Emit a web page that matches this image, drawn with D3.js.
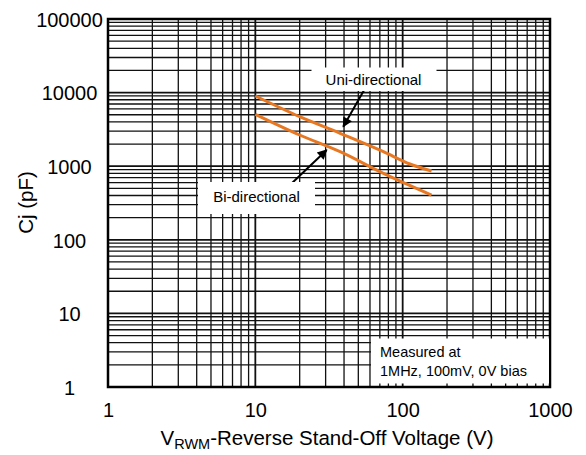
<!DOCTYPE html>
<html>
<head>
<meta charset="utf-8">
<script src="https://cdn.jsdelivr.net/npm/d3@7/dist/d3.min.js"></script>
<style>
  body { margin: 0; background: #fff; }
  svg text { font-family: "Liberation Sans", Arial, sans-serif; fill: #000; }
</style>
</head>
<body>
<svg id="chart"></svg>
<script>
// tick labels
var xTicks = [1, 10, 100, 1000];
var yTicks = [1, 10, 100, 1000, 10000, 100000];

// uni-directional curve (V, pF)
var uniV = [10, 20, 37.6, 74, 112, 157];
var uniC = [9000, 4710, 2800, 1574, 1071, 861];

// bi-directional curve
var biV = [10, 20, 37.6, 74, 157];
var biC = [5070, 2654, 1574, 800, 406];

// arrows: [fromV, fromC, toV, toC]
var uniArrow = [55.5, 11400, 39.5, 3440];
var biArrow = [16.7, 526, 30.5, 1660];

var screen = {width: 586, height: 455};
var margins = {top: 19, bottom: 68, left: 108, right: 36};
var graph = {
    width: screen.width - margins.left - margins.right,
    height: screen.height - margins.top - margins.bottom
};

var svg = d3.select("#chart")
    .attr("width", screen.width)
    .attr("height", screen.height);

var xScale = d3.scaleLog().domain([1, 1000]).range([0, graph.width]);
var yScale = d3.scaleLog().domain([1, 100000]).range([graph.height, 0]);

var g = svg.append("g")
    .attr("transform", "translate(" + margins.left + "," + margins.top + ")");

//grid, every 1..9 in each decade
g.append("g").selectAll("line")
    .data(xScale.ticks())
    .enter().append("line")
    .attr("x1", function(d) { return xScale(d); })
    .attr("x2", function(d) { return xScale(d); })
    .attr("y1", 0).attr("y2", graph.height)
    .attr("stroke", "#111")
    .attr("stroke-width", function(d) { return xTicks.indexOf(d) >= 0 ? 1.8 : 1.3; });

g.append("g").selectAll("line")
    .data(yScale.ticks())
    .enter().append("line")
    .attr("y1", function(d) { return yScale(d); })
    .attr("y2", function(d) { return yScale(d); })
    .attr("x1", 0).attr("x2", graph.width)
    .attr("stroke", "#111")
    .attr("stroke-width", function(d) { return yTicks.indexOf(d) >= 0 ? 1.8 : 1.3; });

//white label boxes over the grid
var boxes = [
    {text: ["Uni-directional"], x: 311.5, y: 67.5, w: 125, h: 23.5, tx: 373.5, ty: [84.5], anchor: "middle"},
    {text: ["Bi-directional"], x: 198, y: 182, w: 117, h: 32, tx: 256.5, ty: [202], anchor: "middle"},
    {text: ["Measured at", "1MHz, 100mV, 0V bias"], x: 371, y: 338.5, w: 178, h: 45, tx: 380, ty: [357, 375.5], anchor: "start"}
];

boxes.forEach(function(b) {
    svg.append("rect")
        .attr("x", b.x).attr("y", b.y)
        .attr("width", b.w).attr("height", b.h)
        .attr("fill", "#fff");
    b.text.forEach(function(t, i) {
        svg.append("text")
            .attr("x", b.tx).attr("y", b.ty[i])
            .attr("text-anchor", b.anchor)
            .style("font-size", i == 0 && b.text.length == 1 ? "15px" : "14.5px")
            .text(t);
    });
});

//curves
var line = d3.line()
    .x(function(d) { return xScale(d[0]); })
    .y(function(d) { return yScale(d[1]); })
    .curve(d3.curveMonotoneX);

[[uniV, uniC], [biV, biC]].forEach(function(s) {
    g.append("path")
        .datum(d3.zip(s[0], s[1]))
        .attr("d", line)
        .attr("fill", "none")
        .attr("stroke", "#E87722")
        .attr("stroke-width", 3);
});

//arrows
svg.append("defs").append("marker")
    .attr("id", "head")
    .attr("viewBox", "0 0 10 10")
    .attr("refX", 9).attr("refY", 5)
    .attr("markerWidth", 6).attr("markerHeight", 5)
    .attr("markerUnits", "strokeWidth")
    .attr("orient", "auto")
    .append("path")
    .attr("d", "M0,0 L10,5 L0,10 z")
    .attr("fill", "#000");

[uniArrow, biArrow].forEach(function(a) {
    g.append("line")
        .attr("x1", xScale(a[0])).attr("y1", yScale(a[1]))
        .attr("x2", xScale(a[2])).attr("y2", yScale(a[3]))
        .attr("stroke", "#000")
        .attr("stroke-width", 2)
        .attr("marker-end", "url(#head)");
});

//frame
g.append("rect")
    .attr("width", graph.width).attr("height", graph.height)
    .attr("fill", "none")
    .attr("stroke", "#000")
    .attr("stroke-width", 2.5);

//axes, labels only
var xAxis = d3.axisBottom(xScale)
    .tickValues(xTicks)
    .tickSize(0)
    .tickFormat(d3.format("d"));
var yAxis = d3.axisLeft(yScale)
    .tickValues(yTicks)
    .tickSize(0)
    .tickFormat(d3.format("d"));

var xa = g.append("g")
    .attr("transform", "translate(0," + graph.height + ")")
    .call(xAxis);
xa.select(".domain").remove();
xa.selectAll("text")
    .attr("y", 30).attr("dy", null)
    .style("font-size", "20px");

var ya = g.append("g").call(yAxis);
ya.select(".domain").remove();
ya.selectAll("text")
    .attr("x", 69.5 - margins.left)
    .attr("dy", "0.36em")
    .attr("text-anchor", "middle")
    .style("font-size", "20px");

//axis titles
var xt = svg.append("text")
    .attr("x", margins.left + graph.width / 2 - 2)
    .attr("y", 445)
    .attr("text-anchor", "middle")
    .style("font-size", "20.5px");
xt.append("tspan").text("V");
xt.append("tspan").attr("dy", 4).style("font-size", "14.5px").text("RWM");
xt.append("tspan").attr("dy", -4).text("-Reverse Stand-Off Voltage (V)");

svg.append("text")
    .attr("transform", "translate(33,202.5) rotate(-90)")
    .attr("text-anchor", "middle")
    .style("font-size", "20.5px")
    .text("Cj (pF)");
</script>
</body>
</html>
